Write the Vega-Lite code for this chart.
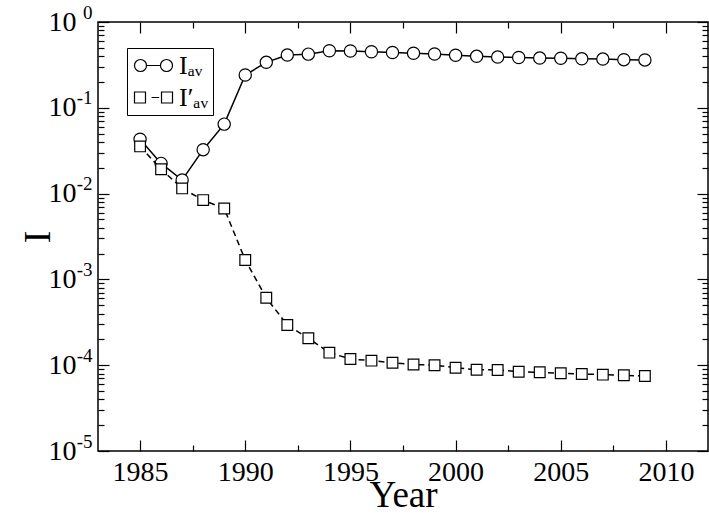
{
  "$schema": "https://vega.github.io/schema/vega-lite/v6.json",
  "width": 610,
  "height": 429,
  "autosize": {"type": "none"},
  "padding": {"left": 98, "top": 22, "right": 1, "bottom": 62},
  "background": "white",
  "config": {
    "view": {"stroke": "black", "strokeWidth": 1.5},
    "axis": {"domain": false, "grid": false, "labelFont": "Liberation Serif", "labelColor": "black", "tickColor": "black", "tickWidth": 1.2, "titleFont": "Liberation Serif", "titleFontWeight": "normal", "titleColor": "black", "labelOverlap": false, "labelFlush": false, "labelBound": false}
  },
  "datasets": {
    "series": [
      {"year": 1985, "series": "Iav", "value": 0.043},
      {"year": 1986, "series": "Iav", "value": 0.0225},
      {"year": 1987, "series": "Iav", "value": 0.0144},
      {"year": 1988, "series": "Iav", "value": 0.0325},
      {"year": 1989, "series": "Iav", "value": 0.0645},
      {"year": 1990, "series": "Iav", "value": 0.241},
      {"year": 1991, "series": "Iav", "value": 0.339},
      {"year": 1992, "series": "Iav", "value": 0.412},
      {"year": 1993, "series": "Iav", "value": 0.422},
      {"year": 1994, "series": "Iav", "value": 0.462},
      {"year": 1995, "series": "Iav", "value": 0.459},
      {"year": 1996, "series": "Iav", "value": 0.45},
      {"year": 1997, "series": "Iav", "value": 0.441},
      {"year": 1998, "series": "Iav", "value": 0.432},
      {"year": 1999, "series": "Iav", "value": 0.424},
      {"year": 2000, "series": "Iav", "value": 0.41},
      {"year": 2001, "series": "Iav", "value": 0.398},
      {"year": 2002, "series": "Iav", "value": 0.39},
      {"year": 2003, "series": "Iav", "value": 0.386},
      {"year": 2004, "series": "Iav", "value": 0.38},
      {"year": 2005, "series": "Iav", "value": 0.378},
      {"year": 2006, "series": "Iav", "value": 0.372},
      {"year": 2007, "series": "Iav", "value": 0.37},
      {"year": 2008, "series": "Iav", "value": 0.364},
      {"year": 2009, "series": "Iav", "value": 0.361},
      {"year": 1985, "series": "Iavp", "value": 0.0355},
      {"year": 1986, "series": "Iavp", "value": 0.0192},
      {"year": 1987, "series": "Iavp", "value": 0.0115},
      {"year": 1988, "series": "Iavp", "value": 0.0084},
      {"year": 1989, "series": "Iavp", "value": 0.0067},
      {"year": 1990, "series": "Iavp", "value": 0.00168},
      {"year": 1991, "series": "Iavp", "value": 0.00061},
      {"year": 1992, "series": "Iavp", "value": 0.000294},
      {"year": 1993, "series": "Iavp", "value": 0.000206},
      {"year": 1994, "series": "Iavp", "value": 0.00014},
      {"year": 1995, "series": "Iavp", "value": 0.000118},
      {"year": 1996, "series": "Iavp", "value": 0.000113},
      {"year": 1997, "series": "Iavp", "value": 0.000107},
      {"year": 1998, "series": "Iavp", "value": 0.000102},
      {"year": 1999, "series": "Iavp", "value": 0.0001},
      {"year": 2000, "series": "Iavp", "value": 0.0000935},
      {"year": 2001, "series": "Iavp", "value": 0.0000885},
      {"year": 2002, "series": "Iavp", "value": 0.000088},
      {"year": 2003, "series": "Iavp", "value": 0.000084},
      {"year": 2004, "series": "Iavp", "value": 0.0000826},
      {"year": 2005, "series": "Iavp", "value": 0.0000805},
      {"year": 2006, "series": "Iavp", "value": 0.000079},
      {"year": 2007, "series": "Iavp", "value": 0.0000776},
      {"year": 2008, "series": "Iavp", "value": 0.0000762},
      {"year": 2009, "series": "Iavp", "value": 0.0000748}
    ]
  },
  "data": {"name": "series"},
  "resolve": {"axis": {"x": "independent", "y": "independent"}},
  "layer": [
    {
      "transform": [{"filter": "datum.series === 'Iav'"}],
      "mark": {"type": "line", "color": "black", "strokeWidth": 1.5},
      "encoding": {
        "x": {"field": "year", "type": "quantitative",
          "scale": {"domain": [1983, 2012], "nice": false, "zero": false},
          "axis": {"orient": "bottom", "values": [1985, 1987.5, 1990, 1992.5, 1995, 1997.5, 2000, 2002.5, 2005, 2007.5, 2010],
            "tickSize": {"condition": {"test": "datum.value % 5 == 0", "value": -11}, "value": -6},
            "labelExpr": "datum.value % 5 == 0 ? '' + datum.value : ''",
            "labelFont": "Liberation Serif", "labelFontSize": 28, "labelPadding": 18,
            "title": "Year", "titleFont": "Liberation Serif", "titleFontSize": 37, "titlePadding": -14}},
        "y": {"field": "value", "type": "quantitative",
          "scale": {"type": "log", "domain": [0.00001, 1], "nice": false},
          "axis": {"orient": "left",
            "values": [0.00001, 0.00002, 0.00003, 0.00004, 0.00005, 0.00006, 0.00007, 0.00008, 0.00009, 0.0001, 0.0002, 0.0003, 0.0004, 0.0005, 0.0006, 0.0007, 0.0008, 0.0009, 0.001, 0.002, 0.003, 0.004, 0.005, 0.006, 0.007, 0.008, 0.009, 0.01, 0.02, 0.03, 0.04, 0.05, 0.06, 0.07, 0.08, 0.09, 0.1, 0.2, 0.3, 0.4, 0.5, 0.6, 0.7, 0.8, 0.9, 1],
            "tickSize": {"condition": {"test": "abs(log(datum.value)/LN10 - round(log(datum.value)/LN10)) < 0.001", "value": -11}, "value": -6},
            "labelExpr": "abs(log(datum.value)/LN10 - round(log(datum.value)/LN10)) < 0.001 ? '10' : ''",
            "labelFont": "Liberation Serif", "labelFontSize": 28, "labelPadding": 33,
            "title": "I", "titleFont": "Liberation Serif", "titleFontSize": 38, "titlePadding": -9}}
      }
    },
    {
      "transform": [{"filter": "datum.series === 'Iav'"}],
      "mark": {"type": "point", "shape": "circle", "filled": true, "fill": "white", "stroke": "black", "strokeWidth": 1.2, "size": 150, "opacity": 1},
      "encoding": {
        "x": {"field": "year", "type": "quantitative", "scale": {"domain": [1983, 2012], "nice": false, "zero": false}, "axis": null},
        "y": {"field": "value", "type": "quantitative", "scale": {"type": "log", "domain": [0.00001, 1], "nice": false},
          "axis": {"orient": "left", "values": [0.00001, 0.0001, 0.001, 0.01, 0.1, 1], "ticks": false,
            "labelExpr": "'' + round(log(datum.value)/LN10)",
            "labelFont": "Liberation Serif", "labelFontSize": 19, "labelPadding": 6, "labelOffset": -10, "title": null}}
      }
    },
    {
      "transform": [{"filter": "datum.series === 'Iavp'"}],
      "mark": {"type": "line", "color": "black", "strokeWidth": 1.5, "strokeDash": [6, 4]},
      "encoding": {
        "x": {"field": "year", "type": "quantitative", "scale": {"domain": [1983, 2012], "nice": false, "zero": false},
          "axis": {"orient": "top", "values": [1985, 1987.5, 1990, 1992.5, 1995, 1997.5, 2000, 2002.5, 2005, 2007.5, 2010],
            "tickSize": {"condition": {"test": "datum.value % 5 == 0", "value": -11}, "value": -6},
            "labels": false, "title": null}},
        "y": {"field": "value", "type": "quantitative", "scale": {"type": "log", "domain": [0.00001, 1], "nice": false},
          "axis": {"orient": "right",
            "values": [0.00001, 0.00002, 0.00003, 0.00004, 0.00005, 0.00006, 0.00007, 0.00008, 0.00009, 0.0001, 0.0002, 0.0003, 0.0004, 0.0005, 0.0006, 0.0007, 0.0008, 0.0009, 0.001, 0.002, 0.003, 0.004, 0.005, 0.006, 0.007, 0.008, 0.009, 0.01, 0.02, 0.03, 0.04, 0.05, 0.06, 0.07, 0.08, 0.09, 0.1, 0.2, 0.3, 0.4, 0.5, 0.6, 0.7, 0.8, 0.9, 1],
            "tickSize": {"condition": {"test": "abs(log(datum.value)/LN10 - round(log(datum.value)/LN10)) < 0.001", "value": -11}, "value": -6},
            "labels": false, "title": null}}
      }
    },
    {
      "transform": [{"filter": "datum.series === 'Iavp'"}],
      "mark": {"type": "point", "shape": "square", "filled": true, "fill": "white", "stroke": "black", "strokeWidth": 1.2, "size": 115, "opacity": 1},
      "encoding": {
        "x": {"field": "year", "type": "quantitative", "scale": {"domain": [1983, 2012], "nice": false, "zero": false}, "axis": null},
        "y": {"field": "value", "type": "quantitative", "scale": {"type": "log", "domain": [0.00001, 1], "nice": false}, "axis": null}
      }
    },
    {
      "mark": {"type": "point", "opacity": 0, "color": "black"},
      "encoding": {
        "x": {"field": "year", "type": "quantitative", "scale": {"domain": [1983, 2012], "nice": false, "zero": false}, "axis": null},
        "y": {"field": "value", "type": "quantitative", "scale": {"type": "log", "domain": [0.00001, 1], "nice": false}, "axis": null},
        "shape": {"field": "series", "type": "nominal",
          "scale": {"domain": ["Iav", "Iavp"], "range": [
            "M-1.5,0A0.474,0.474,0,1,0,-0.552,0A0.474,0.474,0,1,0,-1.5,0ZM-0.552,0L0.552,0M0.552,0A0.474,0.474,0,1,0,1.5,0A0.474,0.474,0,1,0,0.552,0Z",
            "M-1.5,-0.434L-0.632,-0.434L-0.632,0.434L-1.5,0.434ZM-0.15,0L0.45,0M0.632,-0.434L1.5,-0.434L1.5,0.434L0.632,0.434Z"]},
          "legend": {"orient": "none", "legendX": 29, "legendY": 26, "title": null,
            "strokeColor": "black", "fillColor": "white", "padding": 4,
            "symbolSize": 642, "symbolOpacity": 1, "symbolStrokeColor": "black", "symbolFillColor": "white", "symbolStrokeWidth": 1.2, "symbolOffset": 9,
            "labelFont": "Liberation Serif", "labelFontSize": 26, "labelColor": "black", "labelOffset": 12, "rowPadding": 5,
            "labelExpr": "datum.label === 'Iav' ? 'Iₐᵥ' : 'I′ₐᵥ'"}}
      }
    }
  ]
}
